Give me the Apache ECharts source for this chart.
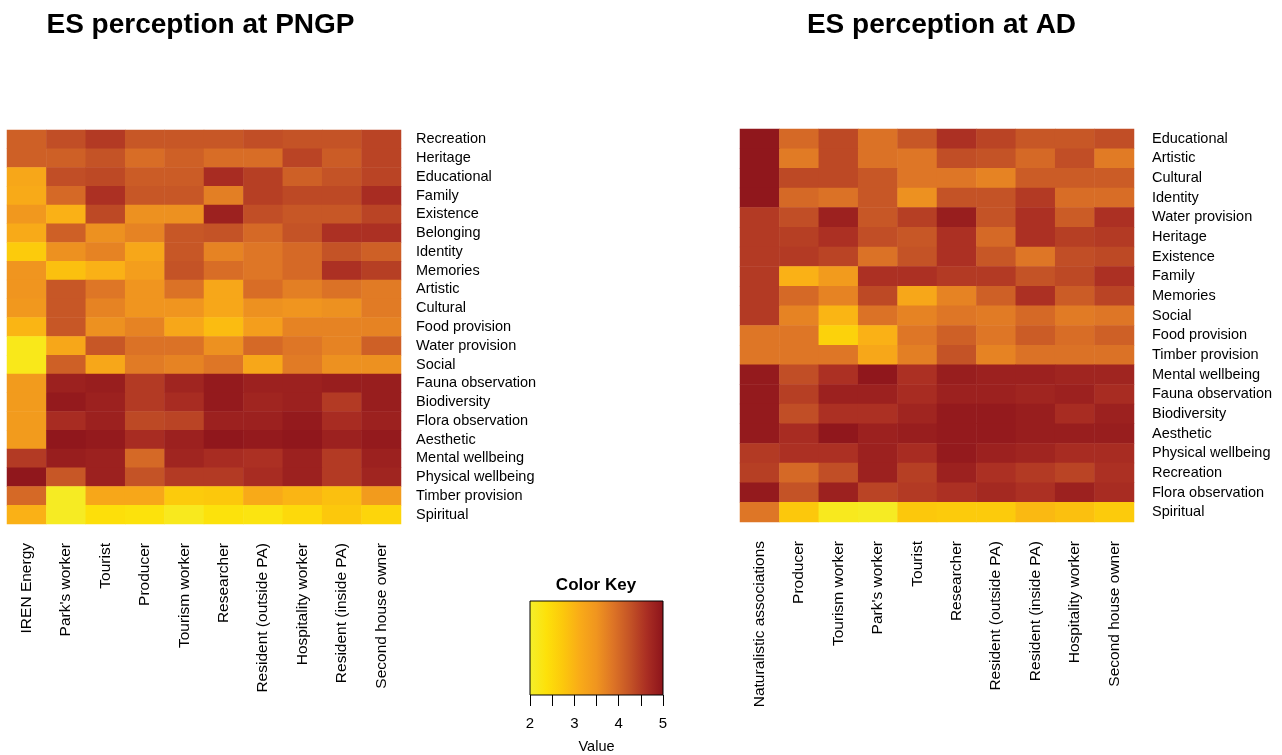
<!DOCTYPE html>
<html>
<head>
<meta charset="utf-8">
<script src="https://cdn.jsdelivr.net/npm/echarts@6/dist/echarts.min.js"></script>
<style>
  html, body { margin: 0; padding: 0; background: #fff; }
  #chart { width: 1282px; height: 755px; }
</style>
</head>
<body>
<div id="chart"></div>
<script>
// Stakeholder groups (columns) and ecosystem services (rows), PNGP
const pngpGroups = ['IREN Energy', "Park's worker", 'Tourist', 'Producer', 'Tourism worker', 'Researcher',
  'Resident (outside PA)', 'Hospitality worker', 'Resident (inside PA)', 'Second house owner'];
const pngpServices = ['Recreation', 'Heritage', 'Educational', 'Family', 'Existence', 'Belonging', 'Identity',
  'Memories', 'Artistic', 'Cultural', 'Food provision', 'Water provision', 'Social', 'Fauna observation',
  'Biodiversity', 'Flora observation', 'Aesthetic', 'Mental wellbeing', 'Physical wellbeing',
  'Timber provision', 'Spiritual'];
// mean perception score, one row per service, columns follow pngpGroups
const pngpValues = [
  [4.1, 4.3, 4.5, 4.2, 4.2, 4.2, 4.3, 4.25, 4.25, 4.4],
  [4.1, 4.1, 4.25, 3.95, 4.1, 3.95, 3.95, 4.4, 4.15, 4.4],
  [3.2, 4.3, 4.35, 4.15, 4.15, 4.65, 4.45, 4.1, 4.25, 4.4],
  [3.15, 4.0, 4.6, 4.2, 4.2, 3.75, 4.45, 4.35, 4.35, 4.65],
  [3.45, 3.05, 4.35, 3.55, 3.55, 4.8, 4.3, 4.2, 4.2, 4.4],
  [3.15, 4.1, 3.55, 3.7, 4.2, 4.25, 4.0, 4.25, 4.6, 4.6],
  [2.7, 3.55, 3.7, 3.2, 4.2, 3.7, 3.85, 4.0, 4.25, 4.1],
  [3.5, 2.85, 3.05, 3.35, 4.25, 3.95, 3.85, 4.0, 4.6, 4.45],
  [3.5, 4.2, 3.85, 3.5, 3.9, 3.2, 3.95, 3.75, 3.9, 3.8],
  [3.45, 4.2, 3.7, 3.5, 3.5, 3.2, 3.55, 3.5, 3.55, 3.8],
  [3.0, 4.2, 3.55, 3.7, 3.2, 2.9, 3.35, 3.7, 3.7, 3.7],
  [2.2, 3.2, 4.2, 3.9, 3.9, 3.55, 4.0, 3.85, 3.7, 4.1],
  [2.2, 4.1, 3.2, 3.8, 3.7, 3.85, 3.2, 3.8, 3.55, 3.55],
  [3.4, 4.8, 4.85, 4.5, 4.75, 4.9, 4.8, 4.8, 4.85, 4.85],
  [3.4, 4.9, 4.8, 4.5, 4.65, 4.9, 4.75, 4.8, 4.5, 4.85],
  [3.4, 4.65, 4.8, 4.35, 4.4, 4.8, 4.8, 4.9, 4.65, 4.8],
  [3.4, 4.95, 4.9, 4.65, 4.8, 4.95, 4.9, 4.95, 4.8, 4.9],
  [4.5, 4.85, 4.8, 4.0, 4.75, 4.65, 4.6, 4.8, 4.5, 4.8],
  [4.95, 4.2, 4.8, 4.25, 4.5, 4.5, 4.65, 4.8, 4.5, 4.75],
  [4.0, 2.1, 3.2, 3.2, 2.7, 2.75, 3.15, 3.0, 2.85, 3.4],
  [3.05, 2.1, 2.4, 2.35, 2.15, 2.35, 2.3, 2.5, 2.75, 2.55]
];

// Stakeholder groups and ecosystem services, AD
const adGroups = ['Naturalistic associations', 'Producer', 'Tourism worker', "Park's worker", 'Tourist',
  'Researcher', 'Resident (outside PA)', 'Resident (inside PA)', 'Hospitality worker', 'Second house owner'];
const adServices = ['Educational', 'Artistic', 'Cultural', 'Identity', 'Water provision', 'Heritage',
  'Existence', 'Family', 'Memories', 'Social', 'Food provision', 'Timber provision', 'Mental wellbeing',
  'Fauna observation', 'Biodiversity', 'Aesthetic', 'Physical wellbeing', 'Recreation',
  'Flora observation', 'Spiritual'];
const adValues = [
  [4.95, 4.0, 4.35, 3.9, 4.2, 4.6, 4.4, 4.2, 4.2, 4.3],
  [4.95, 3.8, 4.35, 3.9, 3.85, 4.3, 4.25, 4.0, 4.3, 3.8],
  [4.95, 4.35, 4.35, 4.2, 3.85, 3.85, 3.7, 4.15, 4.15, 4.15],
  [4.95, 4.0, 3.9, 4.2, 3.55, 4.25, 4.25, 4.5, 3.95, 3.95],
  [4.5, 4.3, 4.8, 4.2, 4.45, 4.85, 4.25, 4.6, 4.15, 4.6],
  [4.5, 4.45, 4.6, 4.3, 4.2, 4.6, 4.0, 4.6, 4.45, 4.5],
  [4.5, 4.5, 4.4, 3.9, 4.25, 4.6, 4.2, 3.85, 4.3, 4.35],
  [4.5, 3.05, 3.4, 4.6, 4.6, 4.5, 4.5, 4.25, 4.35, 4.6],
  [4.5, 4.0, 3.7, 4.35, 3.2, 3.7, 4.1, 4.6, 4.15, 4.4],
  [4.5, 3.7, 3.0, 3.9, 3.7, 3.85, 3.8, 4.0, 3.8, 3.85],
  [3.85, 3.85, 2.6, 3.05, 3.85, 4.1, 3.85, 4.15, 3.95, 4.1],
  [3.85, 3.85, 3.85, 3.2, 3.75, 4.25, 3.7, 3.9, 3.9, 3.9],
  [4.9, 4.3, 4.6, 4.95, 4.6, 4.85, 4.8, 4.8, 4.75, 4.75],
  [4.9, 4.45, 4.8, 4.8, 4.65, 4.8, 4.8, 4.75, 4.8, 4.65],
  [4.9, 4.3, 4.6, 4.6, 4.75, 4.9, 4.9, 4.85, 4.65, 4.8],
  [4.9, 4.65, 4.95, 4.8, 4.85, 4.9, 4.9, 4.85, 4.85, 4.85],
  [4.5, 4.6, 4.6, 4.8, 4.65, 4.9, 4.8, 4.75, 4.65, 4.65],
  [4.45, 4.0, 4.3, 4.8, 4.45, 4.8, 4.6, 4.5, 4.4, 4.6],
  [4.9, 4.25, 4.8, 4.4, 4.5, 4.6, 4.7, 4.6, 4.8, 4.65],
  [3.85, 2.75, 2.15, 2.1, 2.75, 2.7, 2.7, 2.95, 2.85, 2.7]
];

// Colour key range and ramp (yellow -> orange -> dark red)
const keyMin = 2;
const keyMax = 5;
const keyColors = ['#f4ef2c', '#fde10a', '#fcc80c', '#f9ab18', '#f0951f', '#dd7426', '#c45326', '#aa2e23', '#8c131b'];

const FONT = '"Liberation Sans", Arial, Helvetica, sans-serif';

function toCells(values) {
  const out = [];
  values.forEach((row, r) => row.forEach((v, c) => out.push([c, r, v])));
  return out;
}

function catX(gridIndex, groups) {
  return {
    type: 'category', gridIndex, data: groups, position: 'bottom',
    axisLine: { show: false }, axisTick: { show: false }, splitLine: { show: false },
    axisLabel: { rotate: 90, interval: 0, margin: 19, fontSize: 15.5, color: '#000', fontFamily: FONT }
  };
}
function catY(gridIndex, services, margin) {
  return {
    type: 'category', gridIndex, data: services, position: 'right', inverse: true,
    axisLine: { show: false }, axisTick: { show: false }, splitLine: { show: false },
    axisLabel: { interval: 0, margin, fontSize: 14.5, color: '#000', fontFamily: FONT, align: 'left' }
  };
}

const chart = echarts.init(document.getElementById('chart'), null, { renderer: 'canvas' });

chart.setOption({
  backgroundColor: '#fff',
  animation: false,
  title: [
    { text: 'ES perception at PNGP', left: 200.5, top: 11, textAlign: 'center', padding: 0,
      textStyle: { fontSize: 28, fontWeight: 'bold', color: '#000', fontFamily: FONT } },
    { text: 'ES perception at AD', left: 941.5, top: 11, textAlign: 'center', padding: 0,
      textStyle: { fontSize: 28, fontWeight: 'bold', color: '#000', fontFamily: FONT } },
    { text: 'Color Key', left: 596, top: 577, textAlign: 'center', padding: 0,
      textStyle: { fontSize: 17, fontWeight: 'bold', color: '#000', fontFamily: FONT } }
  ],
  grid: [
    { left: 7, top: 130, width: 394, height: 394 },
    { left: 740, top: 129, width: 394, height: 393 },
    { left: 530, top: 601, width: 133, height: 97 }
  ],
  xAxis: [
    catX(0, pngpGroups),
    catX(1, adGroups),
    {
      type: 'value', gridIndex: 2, min: keyMin, max: keyMax, interval: 0.5,
      axisLine: { show: false }, splitLine: { show: false },
      axisTick: { show: true, length: 11, lineStyle: { color: '#000', width: 1 } },
      axisLabel: { margin: 21, fontSize: 15, color: '#000', fontFamily: FONT,
        formatter: v => (Math.abs(v - Math.round(v)) < 1e-9 ? String(Math.round(v)) : '') },
      name: 'Value', nameLocation: 'middle', nameGap: 44,
      nameTextStyle: { fontSize: 14.5, color: '#000', fontFamily: FONT }
    }
  ],
  yAxis: [
    catY(0, pngpServices, 15),
    catY(1, adServices, 18),
    { type: 'value', gridIndex: 2, min: 0, max: 1, show: false }
  ],
  visualMap: {
    show: false, type: 'continuous', min: keyMin, max: keyMax, seriesIndex: [0, 1],
    inRange: { color: keyColors }
  },
  series: [
    {
      type: 'heatmap', xAxisIndex: 0, yAxisIndex: 0, data: toCells(pngpValues),
      itemStyle: { borderWidth: 0 }, emphasis: { disabled: true }
    },
    {
      type: 'heatmap', xAxisIndex: 1, yAxisIndex: 1, data: toCells(adValues),
      itemStyle: { borderWidth: 0 }, emphasis: { disabled: true }
    },
    {
      type: 'custom', xAxisIndex: 2, yAxisIndex: 2, silent: true,
      data: [[keyMin, keyMax]],
      encode: { x: [0, 1] },
      renderItem: (params, api) => {
        const a = api.coord([api.value(0), 1]);
        const b = api.coord([api.value(1), 0]);
        return {
          type: 'rect',
          shape: { x: a[0], y: a[1], width: b[0] - a[0], height: b[1] - a[1] },
          style: {
            fill: new echarts.graphic.LinearGradient(0, 0, 1, 0,
              keyColors.map((c, i) => ({ offset: i / (keyColors.length - 1), color: c }))),
            stroke: '#000', lineWidth: 1
          }
        };
      }
    }
  ]
});
</script>
</body>
</html>
